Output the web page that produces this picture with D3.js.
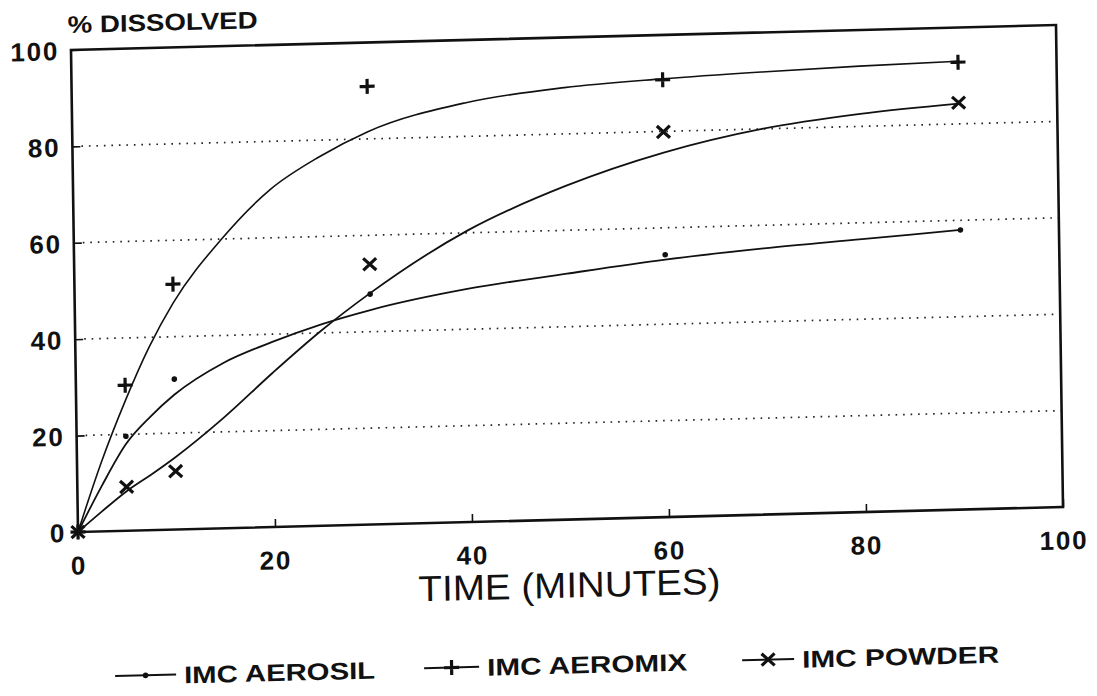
<!DOCTYPE html>
<html><head><meta charset="utf-8">
<script src="https://cdn.jsdelivr.net/npm/d3@7"></script>
<style>
html,body{margin:0;padding:0;background:#fff;}
svg{display:block;}
</style></head><body>
<svg id="chart" width="1097" height="696"></svg>
<script>
// ---- data ----
const times = [0, 5, 10, 30, 60, 90];
const aerosil = [0, 19.6, 31.2, 47.8, 54.4, 58.0];
const aeromix = [0, 30.2, 50.9, 90.9, 90.7, 92.8];
const powder  = [0, 9.1, 12.1, 54.0, 79.9, 84.4];

const fitTimes   = [0, 2.5, 5, 7.5, 10, 15, 20, 25, 30, 40, 50, 60, 70, 80, 90];
const aerosilFit = [0, 9.5, 18, 23.5, 28, 34.3, 38.4, 41.8, 44.5, 48.4, 51, 53.4, 55.2, 56.6, 58];
const aeromixFit = [0, 14.5, 27, 38, 47, 60, 70, 76.5, 81.5, 87, 89.6, 90.9, 91.8, 92.5, 93];
const powderFit  = [0, 4.2, 8.2, 11.5, 15, 23, 32, 40.5, 48, 60.5, 69.2, 75.6, 80, 82.6, 84.2];

const xTicks = [0, 20, 40, 60, 80, 100];
const yTicks = [0, 20, 40, 60, 80, 100];
const gridVals = [20, 40, 60, 80];
const seriesNames = ["IMC AEROSIL", "IMC AEROMIX", "IMC POWDER"];
const markerKinds = ["dot", "plus", "cross"];
const yTitle = "% DISSOLVED";
const xTitle = "TIME (MINUTES)";

// ---- layout ----
const W = 985, H = 482;
const INK = "#111";
const FONT = "'Liberation Sans', Arial, Helvetica, sans-serif";

const svg = d3.select("#chart");
svg.append("rect").attr("width", 1097).attr("height", 696).attr("fill", "#fff");
// scanned page is slightly tilted/skewed
const g = svg.append("g").attr("transform", "matrix(1,-0.02538,0.01452,1,71,50)");

const x = d3.scaleLinear().domain([0, 100]).range([0, W]);
const y = d3.scaleLinear().domain([0, 100]).range([H, 0]);

// grid lines (dotted)
g.append("g").selectAll("line").data(gridVals).join("line")
  .attr("x1", x(0) + 9).attr("x2", x(100))
  .attr("y1", d => y(d)).attr("y2", d => y(d))
  .attr("stroke", "#222").attr("stroke-width", 1.7)
  .attr("stroke-dasharray", "1.6,5.9");

// axes
const gx = g.append("g").attr("transform", `translate(0,${H})`)
  .call(d3.axisBottom(x).tickValues(xTicks).tickSize(-8).tickPadding(24).tickFormat(d3.format("d")));
const gy = g.append("g")
  .call(d3.axisLeft(y).tickValues(yTicks).tickSize(-8).tickPadding(12).tickFormat(d3.format("d")));
[gx, gy].forEach(a => {
  a.attr("font-family", null).attr("font-size", null);
  a.select(".domain").remove();
  a.selectAll(".tick line").attr("stroke", INK).attr("stroke-width", 1.6);
  a.selectAll(".tick text").attr("fill", INK).attr("font-family", FONT)
    .attr("font-size", 26).attr("font-weight", "bold").attr("letter-spacing", 1.8);
});
gy.selectAll(".tick text").attr("dy", "0.36em");

// frame
g.append("rect").attr("width", W).attr("height", H)
  .attr("fill", "none").attr("stroke", INK).attr("stroke-width", 2.6);

// titles
g.append("text").attr("x", -3).attr("y", -17).text(yTitle)
  .attr("font-family", FONT).attr("font-size", 24).attr("font-weight", "bold")
  .attr("fill", INK).attr("textLength", 190).attr("lengthAdjust", "spacingAndGlyphs");
g.append("text").attr("x", x(50) - 2).attr("y", H + 78).text(xTitle)
  .attr("font-family", FONT).attr("font-size", 36).attr("fill", INK)
  .attr("text-anchor", "middle")
  .attr("textLength", 302).attr("lengthAdjust", "spacingAndGlyphs");

// series
const pointSets = [aerosil, aeromix, powder];
const fitSets = [aerosilFit, aeromixFit, powderFit];
const line = d3.line().x(d => x(d[0])).y(d => y(d[1])).curve(d3.curveMonotoneX);

fitSets.forEach((fs, i) => {
  g.append("path").datum(fitTimes.map((t, k) => [t, fs[k]]))
    .attr("d", line).attr("fill", "none").attr("stroke", INK)
    .attr("stroke-width", i === 1 ? 1.6 : 1.8);
});

function markerPath(kind, cx, cy) {
  if (kind === "plus") return `M${cx - 7.5},${cy}h15M${cx},${cy - 7.5}v15`;
  if (kind === "cross") return `M${cx - 6.5},${cy - 6}l13,12M${cx + 6.5},${cy - 6}l-13,12`;
  return null;
}
function drawMarker(sel, kind, cx, cy) {
  if (kind === "dot") {
    sel.append("circle").attr("cx", cx).attr("cy", cy).attr("r", 2.8).attr("fill", INK);
  } else {
    sel.append("path").attr("d", markerPath(kind, cx, cy))
      .attr("stroke", INK).attr("stroke-width", 3.2).attr("fill", "none");
  }
}
pointSets.forEach((ps, i) => {
  const mg = g.append("g");
  times.forEach((t, k) => drawMarker(mg, markerKinds[i], x(t), y(ps[k])));
});

// legend
const legY = 627;
const legStarts = [35, 344, 662];
const legLineLen = [61, 55, 52];
const legTextW = [191, 200, 197];
seriesNames.forEach((name, i) => {
  const lg = g.append("g");
  const x0 = legStarts[i], x1 = x0 + legLineLen[i];
  lg.append("line").attr("x1", x0).attr("x2", x1).attr("y1", legY).attr("y2", legY)
    .attr("stroke", INK).attr("stroke-width", 2);
  drawMarker(lg, markerKinds[i], (x0 + x1) / 2, legY);
  lg.append("text").attr("x", x1 + 8).attr("y", legY + 9).text(name)
    .attr("font-family", FONT).attr("font-size", 24).attr("font-weight", "bold")
    .attr("fill", INK).attr("textLength", legTextW[i]).attr("lengthAdjust", "spacingAndGlyphs");
});
</script>
</body></html>
